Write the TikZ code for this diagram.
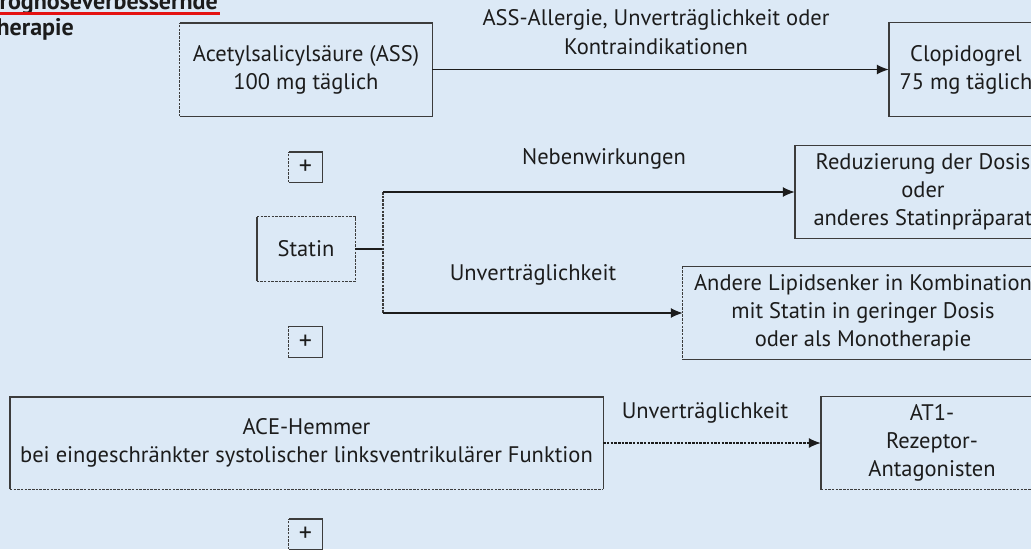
\documentclass[tikz,border=0pt]{standalone}
\usepackage{fontspec}
\setmainfont{PT Sans}
\usetikzlibrary{arrows.meta}
\definecolor{bg}{RGB}{220,233,246}
\definecolor{ink}{RGB}{28,28,28}
\definecolor{edge}{RGB}{60,60,60}
\definecolor{ulred}{RGB}{228,18,18}
\begin{document}
\begin{tikzpicture}[x=1pt,y=-1pt,line join=miter,
  box/.style={inner sep=0pt, align=center, text=ink, font=\fontsize{22.5}{28}\selectfont},
  lbl/.style={inner sep=0pt, align=center, text=ink, font=\fontsize{22.5}{29}\selectfont},
  ttl/.style={inner sep=0pt, anchor=base east, text=ink, font=\fontsize{24}{26}\bfseries\selectfont},
  plusbox/.style={box, minimum width=33pt, font=\fontsize{26}{26}\selectfont},
  solidedge/.style={draw=edge, line width=1.4pt},
  dashedge/.style={draw=edge, line width=1.2pt, dash pattern=on 2.5pt off 1.2pt},
  conn/.style={draw=ink, line width=1.4pt},
  arr/.style={conn, -{Latex[length=12pt,width=10pt]}},
  darr/.style={draw=ink, line width=1.2pt, dash pattern=on 2.5pt off 1.2pt, -{Latex[length=12pt,width=10pt]}},
]
\clip (0,0) rectangle (1031,549);
\fill[bg] (0,0) rectangle (1031,549);

% title (cut by the frame)
\node[ttl] (t1) at (218,9.5) {Prognoseverbessernde};
\node[ttl] (t2) at (74,35) {Therapie};
\draw[ulred, line width=3pt] ([yshift=-3.5pt,xshift=-5pt]t1.base west) -- ([yshift=-3.5pt,xshift=2pt]t1.base east);

% boxes
\node[box, minimum width=252pt, minimum height=93pt] (ass) at (306,69.5) {Acetylsalicylsäure (ASS)\\100 mg täglich};
\node[box, minimum width=154pt, minimum height=94pt] (clop) at (966,69.5) {Clopidogrel\\75 mg täglich};
\node[plusbox, minimum height=30pt] (p1) at (305.5,167) {+};
\node[box, minimum width=98pt, minimum height=64pt] (statin) at (306,249) {Statin};
\node[plusbox, minimum height=31pt] (p2) at (305.5,342) {+};
\node[box, minimum width=256pt, minimum height=93pt] (red) at (923,192) {Reduzierung der Dosis\\oder\\anderes Statinpräparat};
\node[box, minimum width=360pt, minimum height=93pt] (lip) at (863,313) {Andere Lipidsenker in Kombination\\mit Statin in geringer Dosis\\oder als Monotherapie};
\node[box, minimum width=593pt, minimum height=92pt] (ace) at (306.5,443) {ACE-Hemmer\\bei eingeschränkter systolischer linksventrikulärer Funktion};
\node[box, minimum width=222pt, minimum height=93pt] (at1) at (932,443) {AT1-\\Rezeptor-\\Antagonisten};
\node[plusbox, minimum height=30pt] (p3) at (305.5,534) {+};

% box borders (solid and dotted sides)
\draw[solidedge] (ass.north west) -- (ass.north east) -- (ass.south east) -- (ass.south west);
\draw[dashedge] (ass.south west) -- (ass.north west);
\draw[solidedge] (clop.north west) rectangle (clop.south east);
\foreach \p in {p1,p2,p3}{
  \draw[solidedge] (\p.north west) -- (\p.north east) -- (\p.south east) -- (\p.south west);
  \draw[dashedge] (\p.south west) -- (\p.north west);
}
\draw[solidedge] (statin.north west) -- (statin.south west);
\draw[dashedge] (statin.north west) -- (statin.north east) -- (statin.south east) -- (statin.south west);
\draw[solidedge] (red.north west) rectangle (red.south east);
\draw[solidedge] (lip.south west) -- (lip.south east) -- (lip.north east) -- (lip.north west);
\draw[dashedge] (lip.north west) -- (lip.south west);
\draw[solidedge] (ace.south west) -- (ace.north west) -- (ace.north east) -- (ace.south east);
\draw[dashedge] (ace.south west) -- (ace.south east);
\draw[solidedge] (at1.south west) -- (at1.north west) -- (at1.north east) -- (at1.south east);
\draw[dashedge] (at1.south west) -- (at1.south east);

% connectors
\draw[arr] (ass.east) -- (clop.west);
\coordinate (sp) at (383,249);
\coordinate (st) at (383,192);
\coordinate (sb) at (383,313);
\draw[conn] (statin.east) -- (sp);
\draw[dashedge] (st) -- (sb);
\draw[arr] (st) -- (red.west);
\draw[arr] (sb) -- (lip.west);
\draw[darr] (ace.east) -- (at1.west);

% labels
\node[lbl] (l1) at (656,32) {ASS-Allergie, Unverträglichkeit oder\\Kontraindikationen};
\node[lbl] (l2) at (604,159) {Nebenwirkungen};
\node[lbl] (l3) at (533,275) {Unverträglichkeit};
\node[lbl] (l4) at (705,413) {Unverträglichkeit};
\end{tikzpicture}
\end{document}
